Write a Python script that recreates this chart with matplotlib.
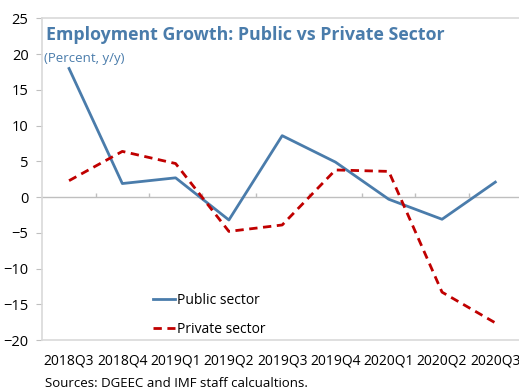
import numpy as np
import matplotlib.pyplot as plt

plt.rcParams['font.family'] = ['Open Sans', 'DejaVu Sans']

quarters = ['2018Q3', '2018Q4', '2019Q1', '2019Q2', '2019Q3',
            '2019Q4', '2020Q1', '2020Q2', '2020Q3']
public = [18.0, 1.9, 2.7, -3.2, 8.6, 4.9, -0.3, -3.1, 2.1]
private = [2.3, 6.4, 4.7, -4.8, -3.9, 3.8, 3.6, -13.3, -17.6]

blue = '#4a7cab'
red = '#c00000'
grid_gray = '#bfbfbf'

fig = plt.figure(figsize=(5.19, 3.91), dpi=100)
ax = fig.add_axes([0.0817, 0.1304, 0.924, 0.8223])

x = np.arange(len(quarters))
ax.plot(x, public, color=blue, lw=2, label='Public sector')
ax.plot(x, private, color=red, lw=2, ls=(0, (3, 2)), label='Private sector')

# zero line with category separators
ax.axhline(0, color=grid_gray, lw=1, zorder=0)
ax.vlines(x[:-1] + 0.5, 0, 0.6, color=grid_gray, lw=1, zorder=0)

ax.set_xlim(-0.5, len(quarters) - 0.5)
ax.set_ylim(-20, 25)
ax.set_yticks(np.arange(-20, 26, 5))
ax.set_xticks(x)
ax.set_xticklabels(quarters)
ax.tick_params(axis='x', length=0, pad=10, labelsize=10)
ax.tick_params(axis='y', length=4, color=grid_gray, pad=6, labelsize=10.5)

for side in ['left', 'bottom', 'top', 'right']:
    ax.spines[side].set_color('#d9d9d9')
    ax.spines[side].set_linewidth(1.2)

ax.text(0.008, 0.95, 'Employment Growth: Public vs Private Sector',
        transform=ax.transAxes, fontsize=12.8, fontweight='bold', color=blue,
        va='center', ha='left')
ax.text(0.003, 0.875, '(Percent, y/y)', transform=ax.transAxes,
        fontsize=9.5, color=blue, va='center', ha='left')

ax.legend(loc='lower left', bbox_to_anchor=(0.205, -0.03), frameon=False,
          handlelength=1.6, handletextpad=0.1, labelspacing=1.0, fontsize=10)

fig.text(0.087, 0.02, 'Sources: DGEEC and IMF staff calcualtions.',
         fontsize=9.5, ha='left', va='center')

fig.savefig('out.png', dpi=100)
